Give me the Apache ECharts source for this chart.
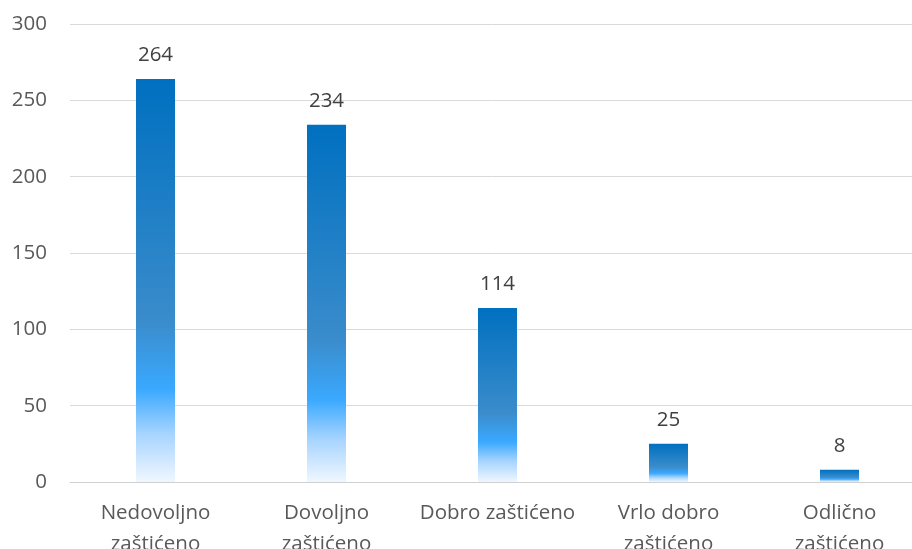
<!DOCTYPE html>
<html>
<head>
<meta charset="utf-8">
<script src="https://cdn.jsdelivr.net/npm/echarts@6/dist/echarts.min.js"></script>
<style>
  html, body { margin: 0; padding: 0; background: #fff; }
  #chart { width: 912px; height: 549px; }
</style>
</head>
<body>
<div id="chart"></div>
<script>
const categories = [
  "Nedovoljno\nzaštićeno",
  "Dovoljno\nzaštićeno",
  "Dobro zaštićeno",
  "Vrlo dobro\nzaštićeno",
  "Odlično\nzaštićeno",
];
const values = [264, 234, 114, 25, 8];

const chart = echarts.init(document.getElementById("chart"));

const barGradient = new echarts.graphic.LinearGradient(0, 0, 0, 1, [
  { offset: 0, color: "#0070C0" },
  { offset: 0.6, color: "#3A8CCB" },
  { offset: 0.77, color: "#3AA9FF" },
  { offset: 0.88, color: "#A6D4FF" },
  { offset: 1, color: "#F0F7FF" },
]);

const option = {
  animation: false,
  textStyle: { fontFamily: "Open Sans" },
  grid: {
    left: 70,
    top: 24,
    width: 855,
    height: 458,
    outerBoundsMode: "none",
    containLabel: false,
  },
  xAxis: {
    type: "category",
    data: categories,
    axisLine: { lineStyle: { color: "#D0D0D0", width: 1 } },
    axisTick: { show: false },
    axisLabel: {
      color: "#595959",
      fontSize: 20.5,
      lineHeight: 31,
      margin: 16,
      interval: 0,
    },
  },
  yAxis: {
    type: "value",
    min: 0,
    max: 300,
    interval: 50,
    axisLine: { show: false },
    axisTick: { show: false },
    axisLabel: {
      color: "#595959",
      fontSize: 20.5,
      margin: 23,
    },
    splitLine: { lineStyle: { color: "#D9D9D9", width: 1 } },
  },
  series: [
    {
      type: "bar",
      data: values,
      barWidth: 39,
      itemStyle: { color: barGradient },
      label: {
        show: true,
        position: "top",
        distance: 13,
        color: "#404040",
        fontSize: 20.5,
      },
    },
  ],
};

chart.setOption(option);
</script>
</body>
</html>
